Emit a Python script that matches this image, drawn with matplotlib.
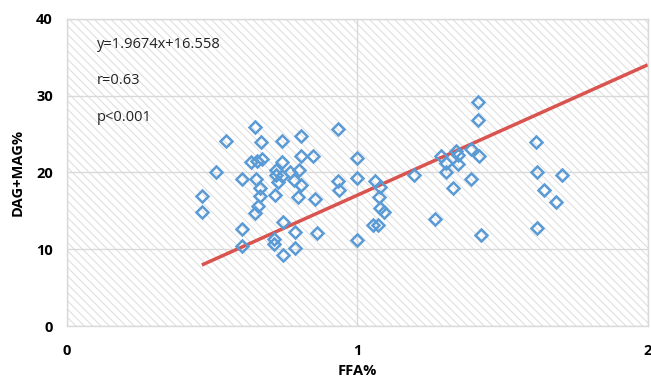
import matplotlib
matplotlib.use("Agg")
import matplotlib.pyplot as plt
from matplotlib.patches import Rectangle

# Data (FFA%, DAG+MAG%)
ffa = [0.465, 0.465, 0.513, 0.549, 0.605, 0.604, 0.604, 0.648, 0.634, 0.656,
       0.672, 0.650, 0.666, 0.667, 0.657, 0.648, 0.668, 0.740, 0.808, 0.740,
       0.805, 0.849, 0.721, 0.722, 0.740, 0.728, 0.767, 0.798, 0.783, 0.805,
       0.716, 0.797, 0.853, 0.743, 0.785, 0.860, 0.713, 0.713, 0.785, 0.743,
       0.935, 0.935, 0.938, 0.998, 0.998, 1.001, 1.061, 1.080, 1.074, 1.080,
       1.093, 1.053, 1.072, 1.197, 1.267, 1.287, 1.305, 1.306, 1.340, 1.348,
       1.348, 1.331, 1.391, 1.391, 1.420, 1.417, 1.415, 1.426,
       1.614, 1.620, 1.706, 1.643, 1.684, 1.620]
dagmag = [16.9, 14.9, 20.0, 24.1, 19.1, 12.6, 10.4, 25.9, 21.3, 21.5,
          21.7, 19.1, 18.0, 16.9, 15.6, 14.7, 24.0, 24.1, 24.7, 21.4,
          22.1, 22.2, 20.3, 19.6, 19.5, 18.8, 20.0, 20.3, 19.0, 18.4,
          17.0, 16.8, 16.5, 13.5, 12.3, 12.1, 11.3, 10.7, 10.1, 9.3,
          25.7, 18.9, 17.7, 21.9, 19.3, 11.2, 18.9, 18.1, 16.8, 15.3,
          14.8, 13.2, 13.2, 19.6, 13.9, 22.1, 21.2, 20.1, 22.8, 22.3,
          21.1, 18.0, 23.1, 19.1, 22.1, 29.2, 26.8, 11.9,
          23.9, 20.0, 19.7, 17.7, 16.1, 12.8]

# Trend line as drawn in the reference
trend_x = [0.465, 2.0]
trend_y = [7.94, 34.0]

x_ticks = [0, 1, 2]
y_ticks = [0, 10, 20, 30, 40]
annotations = ["y=1.9674x+16.558", "r=0.63", "p<0.001"]
annot_y = [36.7, 32.0, 27.1]

plt.rcParams['font.family'] = ['Open Sans', 'DejaVu Sans']
plt.rcParams['hatch.linewidth'] = 0.7
plt.rcParams['hatch.color'] = '#dcdcdc'

fig = plt.figure(figsize=(6.51, 3.80), dpi=100)
ax = fig.add_axes([66.8/651, 1 - 326/380, (647.6-66.8)/651, (326-18.8)/380])

ax.set_xlim(0, 2)
ax.set_ylim(0, 40)

# hatched background
ax.add_patch(Rectangle((0, 0), 1, 1, transform=ax.transAxes, facecolor='white',
                       edgecolor='#dcdcdc', hatch='\\\\\\\\', linewidth=0, zorder=0))

ax.set_xticks(x_ticks)
ax.set_yticks(y_ticks)
ax.grid(True, color='#d9d9d9', linewidth=1.0, zorder=1)
ax.set_axisbelow(True)
for s in ax.spines.values():
    s.set_color('#d9d9d9')
    s.set_linewidth(1.0)

ax.tick_params(length=0, labelsize=10.5, colors='black')
ax.tick_params(axis='y', pad=10)
ax.tick_params(axis='x', pad=13)
for lab in ax.get_xticklabels() + ax.get_yticklabels():
    lab.set_fontweight('bold')

ax.plot(trend_x, trend_y, color='#d9534f', linewidth=2.5, zorder=2,
        solid_capstyle='butt')
ax.plot(ffa, dagmag, linestyle='none', marker='D', markersize=6.5,
        markerfacecolor='none', markeredgecolor='#5b9bd5', markeredgewidth=1.8,
        zorder=3)

for t, yv in zip(annotations, annot_y):
    ax.text(0.104, yv, t, fontsize=10.5, va='center', ha='left', color='#222222')

fig.text(357/651, 1 - 371/380, "FFA%", ha='center', va='center',
         fontsize=10.5, fontweight='bold')
fig.text(18/651, 1 - 172/380, "DAG+MAG%", ha='center', va='center',
         rotation=90, fontsize=10.5, fontweight='bold')

fig.savefig("out.png", dpi=100)
